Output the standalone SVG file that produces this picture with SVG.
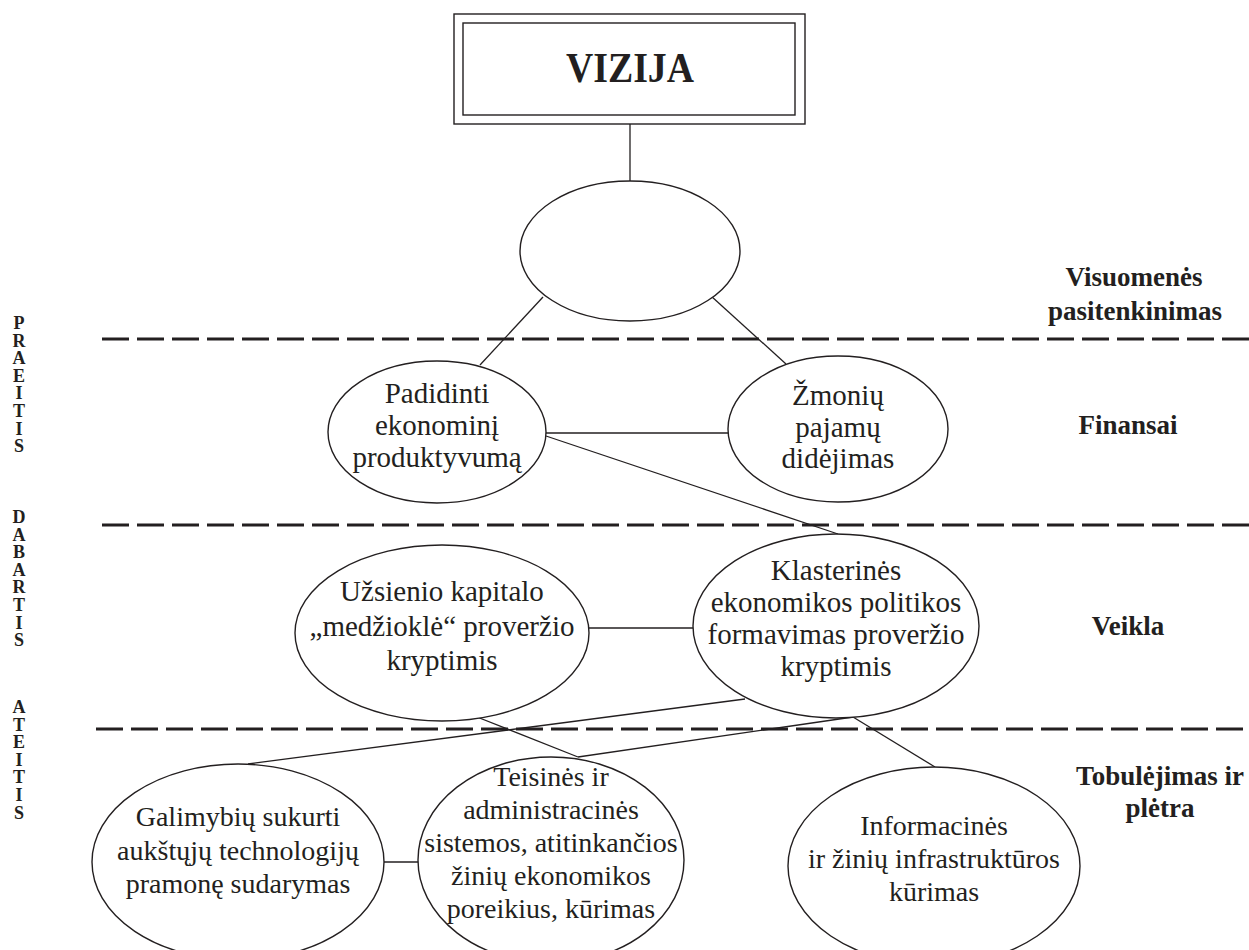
<svg xmlns="http://www.w3.org/2000/svg" width="1249" height="950" viewBox="0 0 1249 950">
<style>
.sh{fill:#fff;stroke:#231f20;stroke-width:1.4}
.ln{stroke:#231f20;stroke-width:1.3;fill:none}
.dash{stroke:#231f20;stroke-width:3;stroke-dasharray:27 8;fill:none}
.t{font-family:"Liberation Serif","Times New Roman",serif;font-size:29px;fill:#231f20;text-anchor:middle}
.tb{font-family:"Liberation Serif","Times New Roman",serif;font-size:28px;fill:#231f20;text-anchor:middle}
.lab{font-family:"Liberation Serif","Times New Roman",serif;font-size:27px;font-weight:bold;fill:#231f20;text-anchor:middle}
.side{font-family:"Liberation Serif","Times New Roman",serif;font-size:18px;font-weight:bold;fill:#231f20;text-anchor:middle}
</style>
<rect width="1249" height="950" fill="#fff"/>
<g id="dividers">
<line class="dash" x1="102" y1="339" x2="1249" y2="339"/>
<line class="dash" x1="102" y1="525" x2="1249" y2="525"/>
<line class="dash" x1="96" y1="729" x2="1249" y2="729"/>
</g>
<g id="connectors">
<line class="ln" x1="630" y1="124" x2="630" y2="181"/>
<line class="ln" x1="543" y1="297" x2="480" y2="365"/>
<line class="ln" x1="711" y1="296" x2="786" y2="364"/>
<line class="ln" x1="546" y1="433" x2="729" y2="433"/>
<line class="ln" x1="546" y1="436" x2="838" y2="534"/>
<line class="ln" x1="589" y1="628" x2="693" y2="628"/>
<line class="ln" x1="745" y1="699" x2="248" y2="764"/>
<line class="ln" x1="853" y1="717" x2="578" y2="757"/>
<line class="ln" x1="477" y1="717" x2="578" y2="757"/>
<line class="ln" x1="853" y1="717" x2="935" y2="767"/>
<line class="ln" x1="384" y1="862" x2="418" y2="862"/>
</g>
<g id="vizija">
<rect class="sh" x="454" y="14" width="351" height="110"/>
<rect class="sh" x="463" y="23" width="332" height="92"/>
<text x="630" y="82" font-family="Liberation Serif, Times New Roman, serif" font-size="43" font-weight="bold" fill="#231f20" text-anchor="middle" textLength="128" lengthAdjust="spacingAndGlyphs">VIZIJA</text>
</g>
<g id="top-ellipse">
<ellipse class="sh" cx="630" cy="251" rx="110" ry="70"/>
</g>
<g id="padidinti">
<ellipse class="sh" cx="437" cy="432" rx="109" ry="71"/>
<text class="t" x="437" y="403">Padidinti</text>
<text class="t" x="437" y="435">ekonominį</text>
<text class="t" x="437" y="467">produktyvumą</text>
</g>
<g id="zmoniu">
<ellipse class="sh" cx="838" cy="429" rx="110" ry="73"/>
<text class="t" x="838" y="405">Žmonių</text>
<text class="t" x="838" y="437">pajamų</text>
<text class="t" x="838" y="468">didėjimas</text>
</g>
<g id="uzsienio">
<ellipse class="sh" cx="442" cy="633" rx="147" ry="88"/>
<text class="t" x="442" y="601">Užsienio kapitalo</text>
<text class="t" x="442" y="636">„medžioklė“ proveržio</text>
<text class="t" x="442" y="670">kryptimis</text>
</g>
<g id="klasterines">
<ellipse class="sh" cx="836" cy="626" rx="143" ry="92"/>
<text class="t" x="836" y="580">Klasterinės</text>
<text class="t" x="836" y="612">ekonomikos politikos</text>
<text class="t" x="836" y="644">formavimas proveržio</text>
<text class="t" x="836" y="676">kryptimis</text>
</g>
<g id="galimybiu">
<ellipse class="sh" cx="238" cy="862" rx="146" ry="98"/>
<text class="tb" x="238" y="826">Galimybių sukurti</text>
<text class="tb" x="238" y="860">aukštųjų technologijų</text>
<text class="tb" x="238" y="893">pramonę sudarymas</text>
</g>
<g id="teisines">
<ellipse class="sh" cx="551" cy="860" rx="133" ry="103"/>
<text class="tb" x="551" y="786">Teisinės ir</text>
<text class="tb" x="551" y="819">administracinės</text>
<text class="tb" x="551" y="852">sistemos, atitinkančios</text>
<text class="tb" x="551" y="885">žinių ekonomikos</text>
<text class="tb" x="551" y="918">poreikius, kūrimas</text>
</g>
<g id="informacines">
<ellipse class="sh" cx="934" cy="866" rx="146" ry="99"/>
<text class="tb" x="934" y="835">Informacinės</text>
<text class="tb" x="934" y="868">ir žinių infrastruktūros</text>
<text class="tb" x="934" y="901">kūrimas</text>
</g>
<g id="labels">
<text class="lab" x="1134" y="286">Visuomenės</text>
<text class="lab" x="1135" y="320">pasitenkinimas</text>
<text class="lab" x="1128" y="434">Finansai</text>
<text class="lab" x="1128" y="635">Veikla</text>
<text class="lab" x="1160" y="785" font-size="25">Tobulėjimas ir</text>
<text class="lab" x="1160" y="817" font-size="25">plėtra</text>
</g>
<g id="timeline">
<text class="side" x="19" y="329">P</text>
<text class="side" x="19" y="346.6">R</text>
<text class="side" x="19" y="364.2">A</text>
<text class="side" x="19" y="381.8">E</text>
<text class="side" x="19" y="399.4">I</text>
<text class="side" x="19" y="417">T</text>
<text class="side" x="19" y="434.6">I</text>
<text class="side" x="19" y="452.2">S</text>
<text class="side" x="19" y="523">D</text>
<text class="side" x="19" y="540.6">A</text>
<text class="side" x="19" y="558.2">B</text>
<text class="side" x="19" y="575.8">A</text>
<text class="side" x="19" y="593.4">R</text>
<text class="side" x="19" y="611">T</text>
<text class="side" x="19" y="628.6">I</text>
<text class="side" x="19" y="646.2">S</text>
<text class="side" x="19" y="713">A</text>
<text class="side" x="19" y="730.6">T</text>
<text class="side" x="19" y="748.2">E</text>
<text class="side" x="19" y="765.8">I</text>
<text class="side" x="19" y="783.4">T</text>
<text class="side" x="19" y="801">I</text>
<text class="side" x="19" y="818.6">S</text>
</g>
</svg>
